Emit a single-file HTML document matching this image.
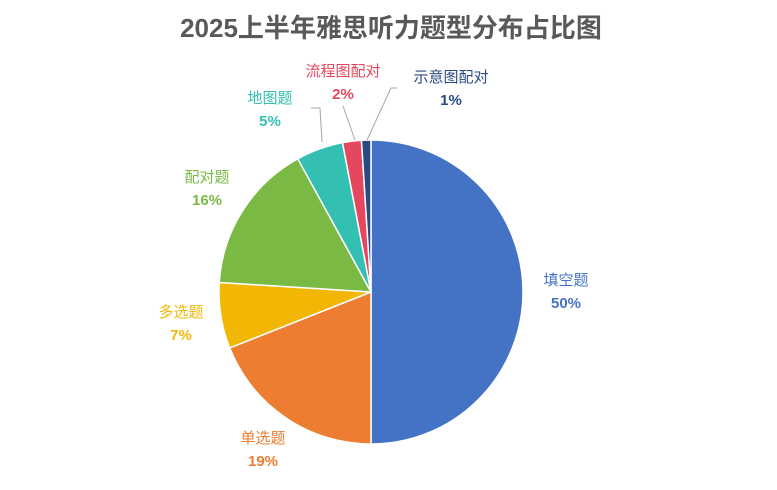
<!DOCTYPE html>
<html><head><meta charset="utf-8"><style>
body{margin:0;background:#fff;}
svg{display:block;font-family:"Liberation Sans","Noto Sans CJK SC",sans-serif;}
</style></head><body>
<svg width="777" height="490">
<text x="391" y="37" text-anchor="middle" font-size="26" font-weight="bold" fill="#595959">2025上半年雅思听力题型分布占比图</text>
<g id="slices"></g>
<g fill="none" stroke="#a6a6a6" stroke-width="1">
<polyline points="311,108 320,108 322,142"/>
<polyline points="343,106 355,140"/>
<polyline points="397,88 391,88 367,140"/>
</g>
<g id="labels" font-size="15"></g>
</svg>
<script>
const categories=["填空题","单选题","多选题","配对题","地图题","流程图配对","示意图配对"];
const values=[50,19,7,16,5,2,1];
const colors=["#4472C4","#ED7D31","#F2B705","#7AB943","#33C0B3","#E5475E","#2A4A86"];
const labelPos=[[566,285],[263,443],[181,317],[207,182],[270,103],[343,76],[451,82]];
const cx=371,cy=292,r=152;
const total=values.reduce((a,b)=>a+b,0);
const ns="http://www.w3.org/2000/svg";
const g=document.getElementById('slices'),lg=document.getElementById('labels');
let a=0;
values.forEach((v,i)=>{
  const a0=a,a1=a+v/total*2*Math.PI;a=a1;
  const x0=cx+r*Math.sin(a0),y0=cy-r*Math.cos(a0),x1=cx+r*Math.sin(a1),y1=cy-r*Math.cos(a1);
  const p=document.createElementNS(ns,'path');
  p.setAttribute('d',`M${cx},${cy}L${x0},${y0}A${r},${r} 0 ${a1-a0>Math.PI?1:0} 1 ${x1},${y1}Z`);
  p.setAttribute('fill',colors[i]);p.setAttribute('stroke','#fff');p.setAttribute('stroke-width','1.5');
  
  
  g.appendChild(p);
  const [lx,ly]=labelPos[i];
  const t=document.createElementNS(ns,'text');
  t.setAttribute('x',lx);t.setAttribute('y',ly);t.setAttribute('text-anchor','middle');t.setAttribute('fill',colors[i]);
  t.textContent=categories[i];
  
  
  lg.appendChild(t);
  const t2=document.createElementNS(ns,'text');
  t2.setAttribute('x',lx);t2.setAttribute('y',ly+23);t2.setAttribute('text-anchor','middle');t2.setAttribute('fill',colors[i]);t2.setAttribute('font-weight','bold');
  t2.textContent=Math.round(v/total*100)+'%';
  
  
  lg.appendChild(t2);
});
</script>
</body></html>
